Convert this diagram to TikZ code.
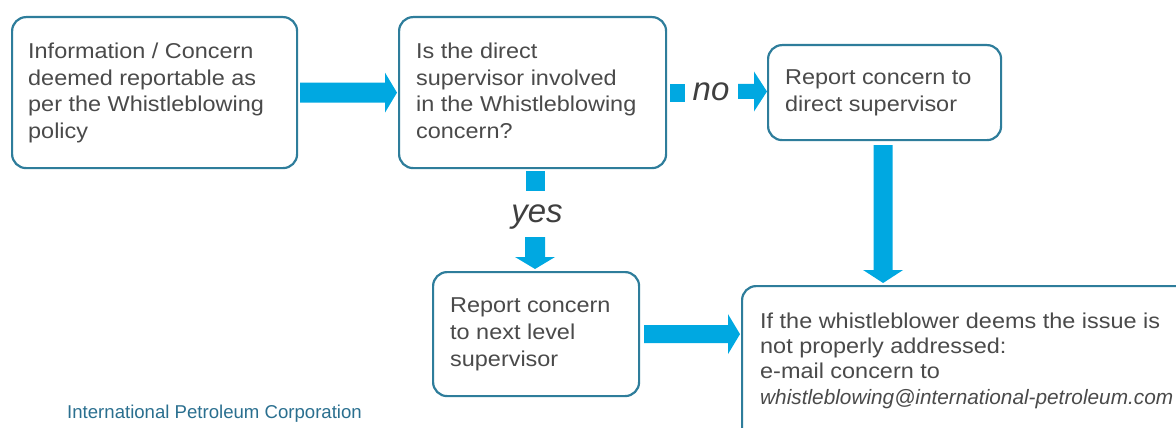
\documentclass[tikz,border=0pt]{standalone}
\usepackage{fontspec}
\setmainfont{Liberation Sans}
\newfontfamily\boxfont[FakeStretch=1.09]{Liberation Sans}
\newfontfamily\mailfont{Liberation Sans}
\usetikzlibrary{calc}
\definecolor{boxc}{HTML}{2E7D9B}
\definecolor{arrc}{HTML}{00A8E1}
\definecolor{txtc}{HTML}{4A4A4A}
\definecolor{footc}{HTML}{2A6F8F}
% horizontal fat arrow: start, end, shaft half, head half, head length
\newcommand\fatH[5]{\fill[arrc] let \p1=(#1), \p2=(#2) in
  (\x1,\y1+#3) -- (\x2-#5,\y1+#3) -- (\x2-#5,\y1+#4) -- (\x2,\y1) --
  (\x2-#5,\y1-#4) -- (\x2-#5,\y1-#3) -- (\x1,\y1-#3) -- cycle;}
% vertical (downward) fat arrow
\newcommand\fatV[5]{\fill[arrc] let \p1=(#1), \p2=(#2) in
  (\x1-#3,\y1) -- (\x1-#3,\y2+#5) -- (\x1-#4,\y2+#5) -- (\x1,\y2) --
  (\x1+#4,\y2+#5) -- (\x1+#3,\y2+#5) -- (\x1+#3,\y1) -- cycle;}
\begin{document}
\begin{tikzpicture}[x=1pt,y=-1pt,
  box/.style={draw=boxc, line width=2.2pt, rounded corners=14pt, fill=white,
    inner sep=0pt, anchor=north west},
  txt/.style={anchor=north west, inner sep=0pt, align=left, text=txtc,
    font=\boxfont\fontsize{21.5}{26.8}\selectfont},
  sq/.style={fill=arrc, inner sep=0pt},
  lab/.style={inner sep=0pt, anchor=base, text=txtc!85!black,
    font=\itshape\fontsize{33}{36}\selectfont}]
\useasboundingbox (0,0) rectangle (1176,428);
\clip (0,0) rectangle (1176,428);

\node[box, minimum width=285pt, minimum height=151pt] (b1) at (11,16) {};
\node[box, minimum width=267pt, minimum height=151pt] (b2) at (398,16) {};
\node[box, minimum width=233pt, minimum height=95pt] (b3) at (767,44) {};
\node[box, minimum width=206pt, minimum height=124pt] (b4) at (432,271) {};
\node[box, minimum width=470pt, minimum height=170pt] (b5) at (741,285) {};

\node[txt] (t1) at (28,42.5) {Information / Concern\\deemed reportable as\\per the Whistleblowing\\policy};
\node[txt] (t2) at (416,42.5) {Is the direct\\supervisor involved\\in the Whistleblowing\\concern?};
\node[txt] (t3) at (785,69.5) {Report concern to\\direct supervisor};
\node[txt] (t4) at (450,297.5) {Report concern\\to next level\\supervisor};
\node[txt, font=\boxfont\fontsize{21.5}{25.3}\selectfont] (t5) at (760,312.5)
  {If the whistleblower deems the issue is\\not properly addressed:\\e-mail concern to\\
   {\mailfont\itshape\fontsize{20.8}{25.3}\selectfont whistleblowing@international-petroleum.com}};

% b1 -> b2
\fatH{[xshift=2pt]b1.east}{[xshift=-1pt]b2.west}{10pt}{20pt}{12pt}

% no branch
\node[sq, minimum width=15pt, minimum height=18pt, anchor=west] (nosq) at ([xshift=3pt]b2.east) {};
\node[lab] (nol) at (711,100) {no};
\coordinate (nostart) at (738,91.5);
\fatH{nostart}{b3.west}{7.5pt}{20pt}{13pt}

% yes branch
\node[sq, minimum width=19pt, minimum height=20pt] (ysq) at (535,181) {};
\node[lab] (yl) at (537,222) {yes};
\coordinate (ystart) at (535,237);
\fatV{ystart}{[yshift=2pt]b4.north}{10pt}{20pt}{12pt}

% b3 -> b5
\fatV{[xshift=-1.5pt,yshift=-4pt]b3.south}{[xshift=-1.5pt,yshift=2pt]b3.south |- b5.north}{9.5pt}{20pt}{13pt}

% b4 -> b5
\fatH{[xshift=4pt]b4.east}{[xshift=-1pt]b4.east -| b5.west}{9pt}{20pt}{12pt}

\node[anchor=base west, inner sep=0pt, text=footc, font=\fontsize{18.6}{20}\selectfont] (foot) at (67,418) {International Petroleum Corporation};
\end{tikzpicture}
\end{document}
